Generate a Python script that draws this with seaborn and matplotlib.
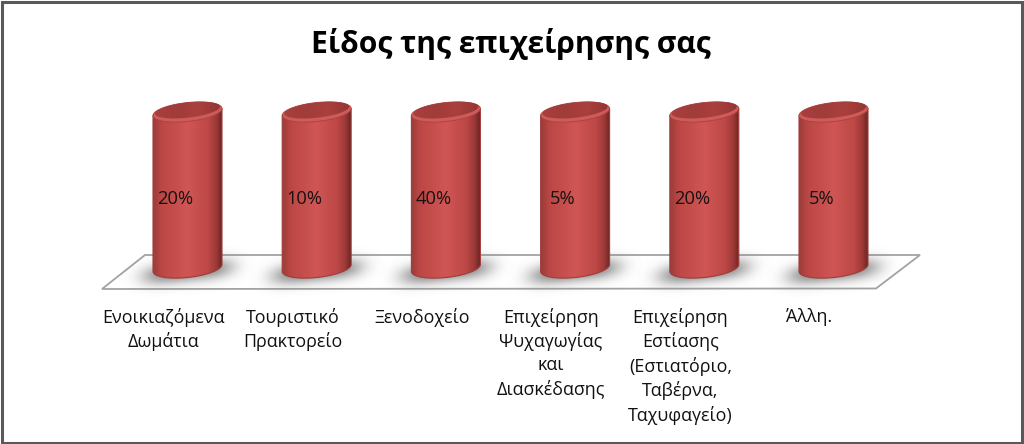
import numpy as np
import pandas as pd
import seaborn as sns
import matplotlib.pyplot as plt
from matplotlib.colors import LinearSegmentedColormap
from matplotlib.patches import Polygon, Rectangle
from matplotlib.transforms import ScaledTranslation

categories = ['Ενοικιαζόμενα\nΔωμάτια', 'Τουριστικό\nΠρακτορείο', 'Ξενοδοχείο',
              'Επιχείρηση\nΨυχαγωγίας\nκαι\nΔιασκέδασης',
              'Επιχείρηση\nΕστίασης\n(Εστιατόριο,\nΤαβέρνα,\nΤαχυφαγείο)', 'Άλλη.']
percent = [20, 10, 40, 5, 20, 5]
# 100% column chart: every column fills its own category
share = [1, 1, 1, 1, 1, 1]

W, H = 1024, 444
X0, STEP = 187.5, 129.2   # centre of first column, column spacing
Y0, Y1 = 268, 112         # pixel row of value 0 and value 1

sns.set_theme(style='white')
plt.rcParams['font.family'] = ['Open Sans', 'DejaVu Sans']

fig = plt.figure(figsize=(W / 100, H / 100), dpi=100)
ax = fig.add_axes([(X0 - STEP / 2) / W, (H - Y0) / H, 6 * STEP / W, (Y0 - Y1) / H])

data = pd.DataFrame({'category': categories, 'share': share})
sns.barplot(data=data, x='category', y='share', width=0.535, color='#c04a48', ax=ax)


def px(x, y):
    return (x - X0) / STEP, (Y0 - y) / (Y0 - Y1)


# floor
floor = Polygon([px(102, 289), px(145, 255), px(920, 255), px(876, 288.5)], closed=True,
                facecolor='white', edgecolor='#a3a3a3', linewidth=1.3, clip_on=False, zorder=1)
ax.add_patch(floor)

body_cmap = LinearSegmentedColormap.from_list('body', [
    (0.0, '#96403d'), (0.04, '#a53f3d'), (0.12, '#bb4745'), (0.5, '#cf5654'),
    (0.8, '#bd4846'), (0.92, '#9c3937'), (1.0, '#6c2624')])
top_cmap = LinearSegmentedColormap.from_list('top', ['#a9403e', '#a03c3a', '#a9403e', '#923533'])

a = 34.5 / STEP
b = 9.5 / (Y0 - Y1)
shear = 3.5 / (Y0 - Y1)
t = np.linspace(0, 2 * np.pi, 121)
grad = np.linspace(0, 1, 256).reshape(1, -1)

xs, ys = np.meshgrid(np.linspace(-1, 1, 200), np.linspace(-1, 1, 100))
for bar in ax.patches[:6]:
    c = bar.get_x() + bar.get_width() / 2
    h = bar.get_height()
    bar.set_visible(False)

    # soft shadow around the base
    tilted = ys + 0.22 * xs
    alpha = np.exp(-(np.abs(xs) * 1.6) ** 4 - (tilted * 3.4) ** 2) * 0.85
    rgba = np.zeros(xs.shape + (4,))
    rgba[..., :3] = 0.45
    rgba[..., 3] = alpha
    ax.imshow(rgba, extent=(c - 72 / STEP, c + 72 / STEP, -0.25, 0.2), aspect='auto',
              origin='upper', clip_on=False, zorder=2, interpolation='bilinear')

    # cylinder side, rectangle plus the lower half of the base ellipse
    low = np.linspace(np.pi, 2 * np.pi, 60)
    side = np.r_[np.c_[c + a * np.cos(low), b * np.sin(low) + shear * np.cos(low)],
                 [[c + a, h + shear]], [[c - a, h - shear]]]
    clip = Polygon(side, closed=True, facecolor='none', edgecolor='#a03c3a',
                   linewidth=0.8, transform=ax.transData, clip_on=False, zorder=4)
    ax.add_patch(clip)
    im = ax.imshow(grad, extent=(c - a, c + a, -0.2, 1.2), aspect='auto', cmap=body_cmap, zorder=3)
    im.set_clip_path(clip)
    im.set_clip_box(fig.bbox)

    # top face with a light rim on its lower edge
    rim = Polygon(np.c_[c + a * np.cos(t), h + b * np.sin(t) + shear * np.cos(t)], closed=True,
                  facecolor='#cf5b59', edgecolor='#a84240', linewidth=0.6, clip_on=False, zorder=5)
    ax.add_patch(rim)
    cap = Polygon(np.c_[c + 0.94 * a * np.cos(t), h + 0.012 + 0.8 * b * np.sin(t) + shear * np.cos(t)],
                  closed=True, facecolor='none', edgecolor='none', transform=ax.transData,
                  clip_on=False, zorder=6)
    ax.add_patch(cap)
    im2 = ax.imshow(grad, extent=(c - a, c + a, h - 0.2, h + 0.2), aspect='auto', cmap=top_cmap, zorder=6)
    im2.set_clip_path(cap)
    im2.set_clip_box(fig.bbox)

for i, p in enumerate(percent):
    ax.text(i - 12 / STEP, 0.44, f'{p}%', ha='center', va='center', fontsize=13.2,
            color='#1a1010', zorder=8)

ax.set_xlim(-0.5, 5.5)
ax.set_ylim(0, 1)
ax.set_xlabel('')
ax.set_ylabel('')
ax.set_yticks([])
ax.set_xticks(range(6))
ax.set_xticklabels(categories, fontsize=12.9, linespacing=1.37, color='#111111')
ax.tick_params(axis='x', length=0, pad=28.5)
# labels sit left of their columns in the original
shift = ScaledTranslation(-24 / fig.dpi, 0, fig.dpi_scale_trans)
for lab in ax.get_xticklabels():
    lab.set_transform(lab.get_transform() + shift)
sns.despine(ax=ax, left=True, bottom=True)
ax.patch.set_alpha(0)

fig.text(511 / W, 1 - 44 / H, 'Είδος της επιχείρησης σας', ha='center', va='center',
         fontsize=21.6, fontweight='bold', color='black')

# chart frame
fig.add_artist(Rectangle((1.5 / W, 1.5 / H), 1 - 4 / W, 1 - 4 / H, transform=fig.transFigure,
                         fill=False, edgecolor='#595959', linewidth=2.2))

fig.savefig('out.png', dpi=100)
